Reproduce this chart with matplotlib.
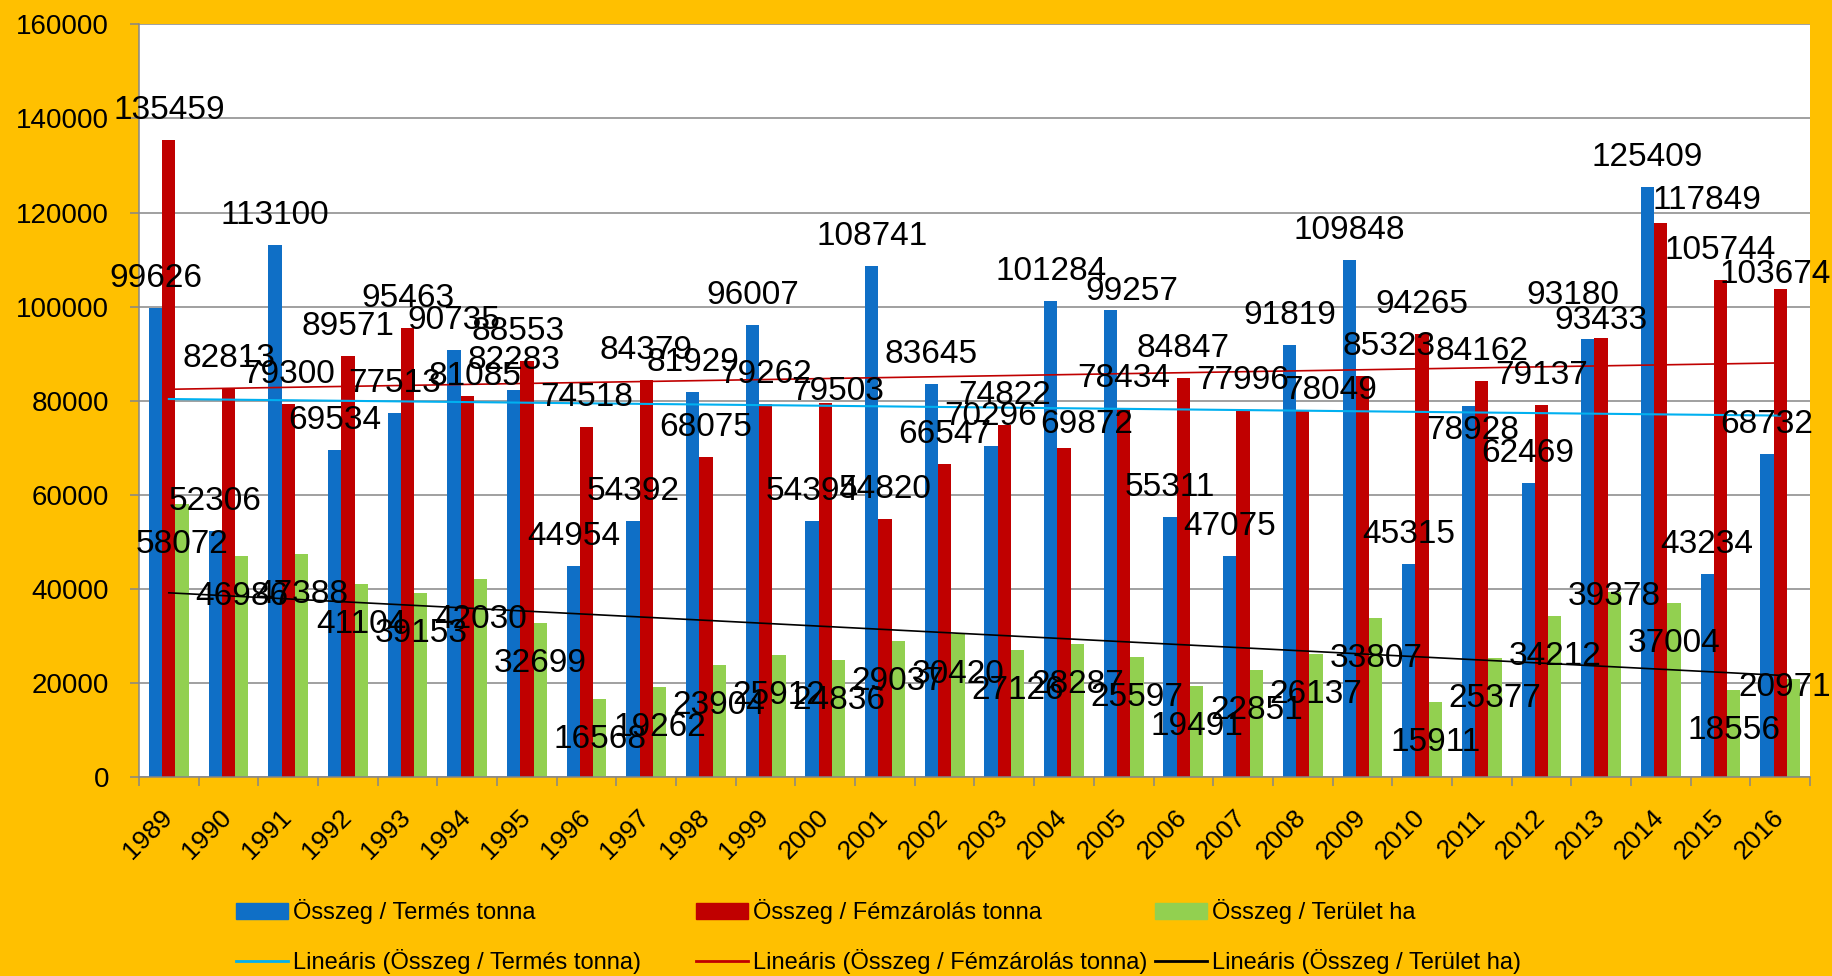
import matplotlib.pyplot as plt
import matplotlib.transforms as mtransforms
import numpy as np
from matplotlib.lines import Line2D
from matplotlib.patches import Patch

plt.rcParams['font.family'] = ['Liberation Sans', 'DejaVu Sans']

years = list(range(1989, 2017))
termes = [99626, 52306, 113100, 69534, 77513, 90735, 82283, 44954, 54392, 81929,
          96007, 54394, 108741, 83645, 70296, 101284, 99257, 55311, 47075, 91819,
          109848, 45315, 78928, 62469, 93180, 125409, 43234, 68732]
femzarolas = [135459, 82813, 79300, 89571, 95463, 81085, 88553, 74518, 84379, 68075,
              79262, 79503, 54820, 66547, 74822, 69872, 78434, 84847, 77996, 78049,
              85323, 94265, 84162, 79137, 93433, 117849, 105744, 103674]
terulet = [58072, 46986, 47388, 41104, 39153, 42030, 32699, 16568, 19262, 23904,
           25912, 24836, 29037, 30420, 27126, 28287, 25597, 19491, 22851, 26137,
           33807, 15911, 25377, 34212, 39378, 37004, 18556, 20971]

names = ['Összeg / Termés tonna', 'Összeg / Fémzárolás tonna', 'Összeg / Terület ha']
colors = ['#0F6FC6', '#C00000', '#92D050']
trend_colors = ['#00B0F0', '#C00000', '#000000']

# labels that were moved by hand in the original (px right, px up)
label_shift = [
    {2005: (21, -11), 2011: (4, -54), 2013: (-15, 14)},
    {1994: (8, -10), 1995: (-9, 0), 2000: (12, -18), 2004: (23, -6), 2008: (28, -10),
     2009: (27, 0), 2013: (0, -12), 2014: (46, -7), 2016: (-5, -15)},
    {2013: (0, 36), 2016: (-9, 32)},
]

fig = plt.figure(figsize=(18.33, 9.76), dpi=100, facecolor='#FFC000')
ax = fig.add_axes([139 / 1833, 1 - 777.3 / 976, (1810 - 139) / 1833, (777.3 - 24.3) / 976])

x = np.arange(len(years))
w = 1 / 4.5
series = [termes, femzarolas, terulet]

for k, vals in enumerate(series):
    pos = x + (k - 1) * w
    ax.bar(pos, vals, width=w, color=colors[k], zorder=2)
    base = 21 if k < 2 else -49
    for i, v in enumerate(vals):
        dx, dy = label_shift[k].get(years[i], (0, 0))
        ax.annotate(str(v), (pos[i], v), xytext=(dx, base + dy), textcoords='offset pixels',
                    ha='center', va='baseline', fontsize=24, zorder=5, annotation_clip=False)

# linear trendlines
for k, vals in enumerate(series):
    a, b = np.polyfit(x, vals, 1)
    ax.plot([x[0], x[-1]], [a * x[0] + b, a * x[-1] + b], color=trend_colors[k],
            lw=1.5 if k == 0 else 1.2, zorder=3)

ax.set_xlim(-0.5, 27.5)
ax.set_ylim(0, 160000)
ax.set_yticks(np.arange(0, 160001, 20000))
ax.yaxis.grid(True, color='#868686', lw=1.1)
ax.set_axisbelow(True)
for s in ['top', 'right']:
    ax.spines[s].set_visible(False)
for s in ['left', 'bottom']:
    ax.spines[s].set_color('#868686')
    ax.spines[s].set_linewidth(1.1)

ax.set_xticks(np.arange(-0.5, 28.0, 1))
ax.set_xticklabels([])
ax.set_xticks(x, minor=True)
ax.set_xticklabels(years, minor=True, rotation=45, ha='right', fontsize=19)
ax.tick_params(axis='x', which='major', length=6.5, width=1.1, color='#868686')
ax.tick_params(axis='x', which='minor', length=0, pad=20)
ax.tick_params(axis='y', length=6.5, width=1.1, color='#868686', labelsize=20, pad=15)
shift = mtransforms.ScaledTranslation(8 / 100, 0, fig.dpi_scale_trans)
for lab in ax.get_xticklabels(minor=True):
    lab.set_transform(lab.get_transform() + shift)

# legend: three columns, bar + its trendline
col_x = [236, 696, 1155]
for c in range(3):
    handles = [Patch(color=colors[c]), Line2D([], [], color=trend_colors[c], lw=2)]
    labels = [names[c], 'Lineáris (' + names[c] + ')']
    fig.legend(handles, labels, loc='upper left', bbox_to_anchor=(col_x[c] / 1833, 1 - 899 / 976),
               frameon=False, fontsize=17, handlelength=2.2, handleheight=0.68,
               handletextpad=0.2, borderpad=0, borderaxespad=0, labelspacing=1.05)

fig.savefig('out.png', dpi=100, facecolor=fig.get_facecolor())
